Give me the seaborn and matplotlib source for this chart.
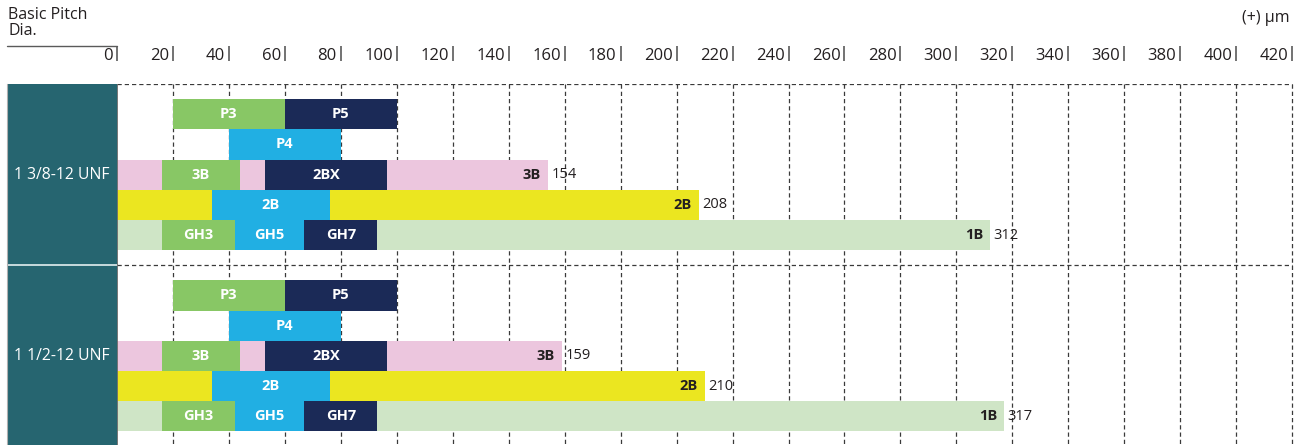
import matplotlib
matplotlib.use("Agg")
import matplotlib.pyplot as plt
import matplotlib.transforms as mtransforms
import numpy as np
import pandas as pd
import seaborn as sns

# --- data -------------------------------------------------------------
threads = ["1 3/8-12 UNF", "1 1/2-12 UNF"]
ticks = list(range(0, 421, 20))

# class tolerance bars (upper limit, um)
class_names = ["3B", "2B", "1B"]
class_3b = [154, 159]
class_2b = [208, 210]
class_1b = [312, 317]

# gauge / tap bands (lower, upper, um) - identical for both sizes
p_names = ["P3", "P5"]
p_lo = [20, 60]
p_hi = [60, 100]

p4_lo = [40]
p4_hi = [80]

b3_names = ["3B", "2BX"]
b3_lo = [16, 53]
b3_hi = [44, 96.5]

b2_names = ["2B"]
b2_lo = [34]
b2_hi = [76]

gh_names = ["GH3", "GH5", "GH7"]
gh_lo = [16, 42, 67]
gh_hi = [42, 67, 93]

# --- styling ----------------------------------------------------------
sns.set_style("white")
plt.rcParams["font.family"] = ["Open Sans", "DejaVu Sans"]

LIGHT_GREEN = "#88c765"
NAVY = "#1b2a57"
CYAN = "#21afe3"
PINK = "#ecc6de"
YELLOW = "#ebe620"
PALE_GREEN = "#cfe5c6"
TEAL = "#266570"
TEXT = "#231f20"

W, H = 1307, 445
fig = plt.figure(figsize=(W / 100, H / 100), dpi=100)

px_per_unit = 2.798
x0_px, top_px = 117, 84
ax = fig.add_axes([x0_px / W, 0, (W - x0_px) / W, (H - top_px) / H])
xmax = (W - x0_px) / px_per_unit
ymax = (H - top_px) / 30.2

# row positions inside each group of six slots
def rows(g):
    base = 6 * g
    return {"P": base + 1, "P4": base + 2, "3B": base + 3, "2B": base + 4, "1B": base + 5}

# grid lines
ax.vlines(ticks[1:], 0, ymax + 1, colors="#3a3a3a", linestyles=(0, (3.4, 2.4)), lw=0.9, zorder=0)
ax.hlines([0, 6], 0, 420, colors="#3a3a3a", linestyles=(0, (3.4, 2.4)), lw=0.9, zorder=0)

# long class bars drawn with seaborn
long_df = pd.DataFrame({
    "pos": [rows(g)[c] for c in class_names for g in range(2)],
    "value": class_3b + class_2b + class_1b,
    "cls": [c for c in class_names for _ in range(2)],
})
sns.barplot(data=long_df, x="value", y="pos", hue="cls", orient="y", native_scale=True,
            dodge=False, width=1.0, errorbar=None, saturation=1, linewidth=0,
            palette={"3B": PINK, "2B": YELLOW, "1B": PALE_GREEN}, legend=False, ax=ax, zorder=2)

def bands(y, names, lo, hi, colors):
    for n, a, b, c in zip(names, lo, hi, colors):
        ax.barh(y, b - a, left=a, height=1.0, color=c, linewidth=0, zorder=3)
        ax.text((a + b) / 2, y, n, ha="center", va="center", color="white",
                fontsize=10.5, fontweight="bold", zorder=4)

for g in range(2):
    r = rows(g)
    bands(r["P"], p_names, p_lo, p_hi, [LIGHT_GREEN, NAVY])
    bands(r["P4"], ["P4"], p4_lo, p4_hi, [CYAN])
    bands(r["3B"], b3_names, b3_lo, b3_hi, [LIGHT_GREEN, NAVY])
    bands(r["2B"], b2_names, b2_lo, b2_hi, [CYAN])
    bands(r["1B"], gh_names, gh_lo, gh_hi, [LIGHT_GREEN, CYAN, NAVY])
    for cls, vals in zip(class_names, [class_3b, class_2b, class_1b]):
        v = vals[g]
        ax.text(v - 2.5, r[cls], cls, ha="right", va="center", color=TEXT,
                fontsize=10.5, fontweight="bold", zorder=4)
        ax.text(v + 1.3, r[cls], str(v), ha="left", va="center", color=TEXT,
                fontsize=10.5, zorder=4)

ax.axvline(0, color="#6b6b6b", lw=1.3, zorder=5)
ax.set_xlim(0, xmax)
ax.set_ylim(ymax, 0)
ax.set_xlabel("")
ax.set_ylabel("")
ax.set_xticks([])
ax.set_yticks([])
for s in ax.spines.values():
    s.set_visible(False)
ax.patch.set_alpha(0)

# axis scale in the header: numbers followed by a short bar at each tick
hdr = mtransforms.blended_transform_factory(ax.transData, fig.transFigure)
num_tr = mtransforms.offset_copy(hdr, fig=fig, x=-4, y=0, units="dots")
for v in ticks:
    ax.text(v, 1 - 60 / H, str(v), transform=num_tr, ha="right", va="baseline",
            fontsize=12, color=TEXT, clip_on=False)
    ax.plot([v, v], [1 - 46 / H, 1 - 61 / H], transform=hdr, color="#5a5a5a",
            lw=1.2, clip_on=False, solid_capstyle="butt")

fig.text(8 / W, 1 - 7 / H, "Basic Pitch\nDia.", ha="left", va="top", fontsize=11.5,
         color=TEXT, linespacing=1.0)
fig.add_artist(plt.Line2D([7 / W, 117 / W], [1 - 46 / H, 1 - 46 / H], color="#5a5a5a", lw=1.0))
fig.text(1290 / W, 1 - 18 / H, "(+) μm", ha="right", va="center", fontsize=11.5, color=TEXT)

# thread size label column
lab = fig.add_axes([7 / W, 0, 110 / W, (H - top_px) / H])
lab.set_facecolor(TEAL)
lab.set_xlim(0, 1)
lab.set_ylim(ymax, 0)
lab.axhline(6, color="#d4e4e6", lw=1.3)
for g, name in enumerate(threads):
    lab.text(0.5, rows(g)["3B"], name, ha="center", va="center", color="white", fontsize=11.3)
lab.set_xticks([])
lab.set_yticks([])
for k, s in lab.spines.items():
    s.set_visible(k == "left")
    s.set_color("#b0b0b0")

fig.savefig("out.png", dpi=100)
